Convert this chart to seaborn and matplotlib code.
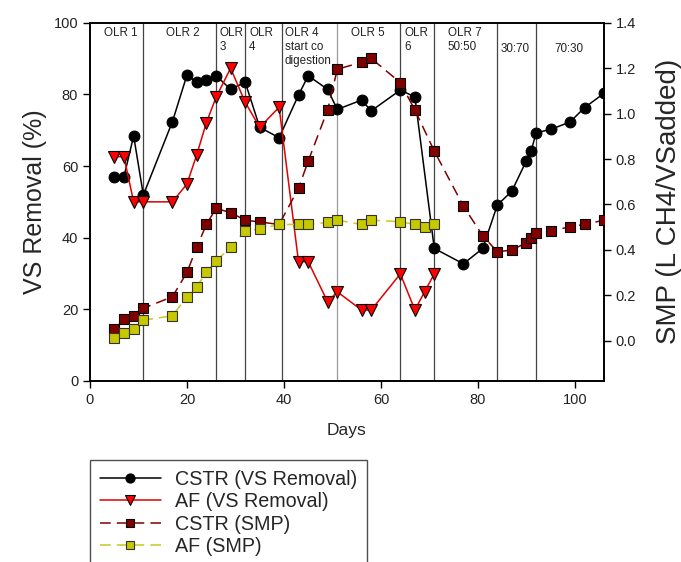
import matplotlib
matplotlib.use("Agg")
import matplotlib.pyplot as plt
import seaborn as sns
import pandas as pd

# ---------------- data ----------------
cstr_vs_days = [5, 7, 9, 11, 17, 20, 22, 24, 26, 29, 32, 35, 39, 43, 45, 49, 51, 56, 58, 64, 67,
                71, 77, 81, 84, 87, 90, 91, 92, 95, 99, 102, 106]
cstr_vs = [57.0, 57.0, 68.4, 51.9, 72.4, 85.4, 83.4, 84.0, 85.2, 81.4, 83.4, 70.8, 67.9, 79.8, 85.2,
           81.4, 75.8, 78.4, 75.4, 81.2, 79.3, 37.0, 32.7, 37.0, 49.1, 53.0, 61.5, 64.3, 69.3, 70.2,
           72.3, 76.3, 80.3]

af_vs_days = [5, 7, 9, 11, 17, 20, 22, 24, 26, 29, 32, 35, 39, 43, 45, 49, 51, 56, 58, 64, 67, 69, 71]
af_vs = [62.6, 62.6, 50.0, 50.0, 50.0, 55.0, 63.1, 72.1, 79.2, 87.3, 77.8, 70.8, 76.4, 33.3, 33.3,
         22.1, 24.9, 19.8, 19.8, 29.9, 19.8, 24.9, 29.9]

cstr_smp_days = [5, 7, 9, 11, 17, 20, 22, 24, 26, 29, 32, 35, 39, 43, 45, 49, 51, 56, 58, 64, 67,
                 71, 77, 81, 84, 87, 90, 91, 92, 95, 99, 102, 106]
cstr_smp = [0.050, 0.094, 0.110, 0.143, 0.194, 0.301, 0.411, 0.512, 0.583, 0.564, 0.531, 0.523,
            0.512, 0.671, 0.791, 1.016, 1.195, 1.226, 1.243, 1.136, 1.016, 0.835, 0.593, 0.462,
            0.392, 0.399, 0.432, 0.452, 0.473, 0.483, 0.502, 0.512, 0.531]

af_smp_days = [5, 7, 9, 11, 17, 20, 22, 24, 26, 29, 32, 35, 39, 43, 45, 49, 51, 56, 58, 64, 67, 69, 71]
af_smp = [0.011, 0.033, 0.052, 0.091, 0.110, 0.194, 0.238, 0.301, 0.352, 0.411, 0.483, 0.492,
          0.512, 0.512, 0.512, 0.521, 0.531, 0.512, 0.531, 0.524, 0.512, 0.502, 0.512]

phase_bounds = [11, 26, 32, 39.5, 51, 64, 71, 84, 92]
phase_labels = ["OLR 1", "OLR 2", "OLR\n3", "OLR\n4", "OLR 4\nstart co\ndigestion", "OLR 5",
                "OLR\n6", "OLR 7\n50:50", "30:70", "70:30"]
phase_label_x = [2.8, 15.7, 26.8, 32.8, 40.2, 53.9, 64.9, 73.8, 84.7, 95.8]
phase_label_y = [98.8, 98.8, 98.8, 98.8, 98.8, 98.8, 98.8, 98.8, 94.3, 94.3]

series_labels = ["CSTR (VS Removal)", "AF (VS Removal)", "CSTR (SMP)", "AF (SMP)"]

# ---------------- style ----------------
sns.set_style("ticks")
plt.rcParams["font.family"] = ["Liberation Sans", "DejaVu Sans"]

W, H = 681, 562
fig = plt.figure(figsize=(W / 100, H / 100), dpi=100)
ax = fig.add_axes([90 / W, 1 - 381 / H, (604 - 90) / W, (381 - 22.7) / H])
ax2 = ax.twinx()

# phase separators
for d in phase_bounds:
    ax.axvline(d, color="#999999" if d == 51 else "#444444", lw=0.9, zorder=1)
for lab, x, y in zip(phase_labels, phase_label_x, phase_label_y):
    ax.text(x, y, lab, fontsize=8.4, color="#222222", ha="left", va="top", linespacing=1.25,
            zorder=2)

df1 = pd.DataFrame({"day": cstr_vs_days, "val": cstr_vs})
df2 = pd.DataFrame({"day": af_vs_days, "val": af_vs})
df3 = pd.DataFrame({"day": cstr_smp_days, "val": cstr_smp})
df4 = pd.DataFrame({"day": af_smp_days, "val": af_smp})

sns.lineplot(data=df1, x="day", y="val", ax=ax, color="black", marker="o", markersize=7.8,
             markerfacecolor="black", markeredgecolor="black", lw=1.1, sort=False,
             estimator=None, label=series_labels[0], zorder=3)
sns.lineplot(data=df2, x="day", y="val", ax=ax, color="#e00000", marker="v", markersize=8,
             markerfacecolor="#ff0000", markeredgecolor="black", markeredgewidth=0.8, lw=1.1,
             sort=False, estimator=None, label=series_labels[1], zorder=4)
sns.lineplot(data=df3, x="day", y="val", ax=ax2, color="#800000", marker="s", markersize=6.5,
             markerfacecolor="#800000", markeredgecolor="black", markeredgewidth=0.8, lw=1.1,
             linestyle=(0, (7, 4)), sort=False, estimator=None, label=series_labels[2], zorder=3)
sns.lineplot(data=df4, x="day", y="val", ax=ax2, color="#c8c820", marker="s", markersize=6.5,
             markerfacecolor="#c8c800", markeredgecolor="#333333", markeredgewidth=0.8, lw=1.1,
             linestyle=(0, (7, 4)), sort=False, estimator=None, label=series_labels[3], zorder=4)

ax.set_xlim(0, 106)
ax.set_ylim(0, 100)
ax2.set_ylim(-0.177, 1.4)
ax.set_xticks([0, 20, 40, 60, 80, 100])
ax.set_yticks([0, 20, 40, 60, 80, 100])
ax2.set_yticks([0.0, 0.2, 0.4, 0.6, 0.8, 1.0, 1.2, 1.4])
ax2.set_yticklabels(["0.0", "0.2", "0.4", "0.6", "0.8", "1.0", "1.2", "1.4"])

for a in (ax, ax2):
    a.tick_params(direction="out", length=5, width=1, labelsize=10.5, colors="black",
                  labelcolor="#222222")
    for s in a.spines.values():
        s.set_visible(True)
        s.set_color("black")
        s.set_linewidth(1.2)

ax.set_xlabel("Days", fontsize=12.5, labelpad=12)
ax.set_ylabel("VS Removal (%)", fontsize=18, labelpad=5)
ax2.set_ylabel("SMP (L CH4/VSadded)", fontsize=20, labelpad=14)

# legend (combined)
h1, l1 = ax.get_legend_handles_labels()
h2, l2 = ax2.get_legend_handles_labels()
if ax.get_legend():
    ax.get_legend().remove()
if ax2.get_legend():
    ax2.get_legend().remove()
leg = fig.legend(h1 + h2, l1 + l2, loc="upper left", bbox_to_anchor=(90 / W, 1 - 460 / H),
                 fontsize=14.2, handlelength=3.1, handletextpad=0.7, frameon=True, fancybox=False,
                 edgecolor="#222222", borderpad=0.5, labelspacing=0.17, borderaxespad=0,
                 markerscale=0.85)
leg.get_frame().set_linewidth(1.0)

fig.savefig("out.png", dpi=100)
